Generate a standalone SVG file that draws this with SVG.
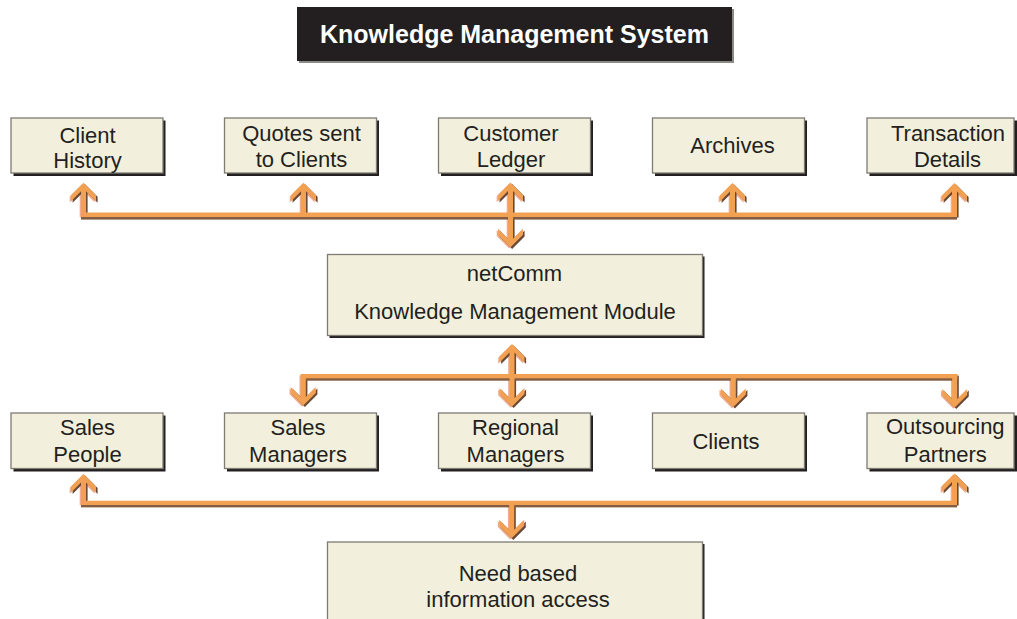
<svg xmlns="http://www.w3.org/2000/svg" xmlns:xlink="http://www.w3.org/1999/xlink" width="1017" height="619" viewBox="0 0 1017 619">
<style>
.box{fill:#f2f0dc;stroke:#7d7b74;stroke-width:1.3}
.shd{fill:#231f20}
.lbl{font-family:"Liberation Sans",Arial,sans-serif;font-size:22px;fill:#231f20;text-anchor:middle}
.ttl{font-family:"Liberation Sans",Arial,sans-serif;font-size:25px;font-weight:bold;fill:#ffffff;text-anchor:middle}
.busO{fill:#f2a152}
.busB{fill:#845c42}
</style>
<defs>
<path id="hu" d="M0,0 L12.5,12.5 L12.5,18.5 L2.5,8.5 L-2.5,8.5 L-12.5,18.5 L-12.5,12.5 Z"/>
<path id="hd" d="M0,0 L12.5,-12.5 L12.5,-18.5 L2.5,-8.5 L-2.5,-8.5 L-12.5,-18.5 L-12.5,-12.5 Z"/>
<g id="arrows">
<use xlink:href="#hu" x="83.5" y="182.7"/><rect x="81" y="190" width="5" height="26"/>
<use xlink:href="#hu" x="303.5" y="182.7"/><rect x="301" y="190" width="5" height="26"/>
<use xlink:href="#hu" x="510.5" y="182.5"/><rect x="508" y="190" width="5" height="50"/><use xlink:href="#hd" x="510.5" y="247.3"/>
<use xlink:href="#hu" x="732.5" y="183"/><rect x="730" y="190" width="5" height="26"/>
<use xlink:href="#hu" x="954.5" y="183"/><rect x="952" y="190" width="5" height="26"/>
<use xlink:href="#hu" x="512" y="344"/><rect x="509.5" y="351" width="5" height="49"/><use xlink:href="#hd" x="512" y="406.5"/>
<rect x="300.8" y="374" width="5" height="25"/><use xlink:href="#hd" x="303.3" y="405.5"/>
<rect x="730.8" y="374" width="5" height="26"/><use xlink:href="#hd" x="733.3" y="407"/>
<rect x="952.2" y="374" width="5" height="26"/><use xlink:href="#hd" x="954.7" y="407.5"/>
<use xlink:href="#hu" x="83.5" y="474"/><rect x="81" y="481" width="5" height="23"/>
<use xlink:href="#hu" x="954.5" y="473.5"/><rect x="952" y="481" width="5" height="23"/>
<rect x="509.2" y="502" width="5" height="30"/><use xlink:href="#hd" x="511.7" y="538.3"/>
</g>
</defs>
<rect width="1017" height="619" fill="#ffffff"/>

<g id="title">
<rect x="299" y="9" width="435" height="54" fill="#8c8a86"/>
<rect x="297" y="7" width="435" height="54" fill="#231f20"/>
<text class="ttl" x="514.5" y="42.5">Knowledge Management System</text>
</g>

<g id="connectors">
<use xlink:href="#arrows" fill="#f2ab8e" transform="translate(-1.3,1.3)"/>
<use xlink:href="#arrows" fill="#6a4a37" transform="translate(1.6,1.6)"/>
<rect class="busB" x="81" y="215" width="876" height="4.6"/>
<rect class="busO" x="81" y="212.5" width="876" height="4.5"/>
<rect class="busB" x="301" y="376.3" width="656.3" height="4.4"/>
<rect class="busO" x="300.8" y="374" width="656.5" height="4.3"/>
<rect class="busB" x="81" y="503" width="876" height="4.4"/>
<rect class="busO" x="81" y="500.7" width="876" height="4.3"/>
<use xlink:href="#arrows" fill="#f2a152"/>
</g>

<g id="node-client-history">
<rect class="shd" x="13.5" y="120.5" width="152" height="55.5"/>
<rect class="box" x="11" y="118" width="152" height="55"/>
<text class="lbl" x="87.5" y="142.7">Client</text>
<text class="lbl" x="87.5" y="168">History</text>
</g>
<g id="node-quotes">
<rect class="shd" x="227" y="120.5" width="152" height="55.5"/>
<rect class="box" x="224.5" y="118" width="152" height="55"/>
<text class="lbl" x="301.5" y="140.7">Quotes sent</text>
<text class="lbl" x="301.5" y="166.7">to Clients</text>
</g>
<g id="node-customer-ledger">
<rect class="shd" x="441" y="120.5" width="152" height="55.5"/>
<rect class="box" x="438.5" y="118" width="152" height="55"/>
<text class="lbl" x="511" y="140.7">Customer</text>
<text class="lbl" x="511" y="166.7">Ledger</text>
</g>
<g id="node-archives">
<rect class="shd" x="655" y="120.5" width="152" height="55.5"/>
<rect class="box" x="652.5" y="118" width="152" height="55"/>
<text class="lbl" x="732.5" y="153.3">Archives</text>
</g>
<g id="node-transaction">
<rect class="shd" x="869.5" y="120.5" width="147.5" height="55.5"/>
<rect class="box" x="867" y="118" width="147" height="55"/>
<text class="lbl" x="948" y="140.7">Transaction</text>
<text class="lbl" x="947.5" y="166.7">Details</text>
</g>

<g id="node-netcomm">
<rect class="shd" x="329.5" y="256.5" width="375" height="81.5"/>
<rect class="box" x="327.5" y="254.5" width="375" height="81"/>
<text class="lbl" x="514.5" y="280.7">netComm</text>
<text class="lbl" x="515" y="319">Knowledge Management Module</text>
</g>

<g id="node-sales-people">
<rect class="shd" x="13.5" y="415.5" width="152" height="56"/>
<rect class="box" x="11" y="413" width="152" height="55.5"/>
<text class="lbl" x="87.5" y="435">Sales</text>
<text class="lbl" x="87.5" y="461.7">People</text>
</g>
<g id="node-sales-managers">
<rect class="shd" x="227" y="415.5" width="152" height="56"/>
<rect class="box" x="224.5" y="413" width="152" height="55.5"/>
<text class="lbl" x="298" y="435">Sales</text>
<text class="lbl" x="298" y="461.7">Managers</text>
</g>
<g id="node-regional-managers">
<rect class="shd" x="441" y="415.5" width="152" height="56"/>
<rect class="box" x="438.5" y="413" width="152" height="55.5"/>
<text class="lbl" x="515.5" y="435">Regional</text>
<text class="lbl" x="515.5" y="461.7">Managers</text>
</g>
<g id="node-clients">
<rect class="shd" x="655" y="415.5" width="152" height="56"/>
<rect class="box" x="652.5" y="413" width="152" height="55.5"/>
<text class="lbl" x="726" y="449.3">Clients</text>
</g>
<g id="node-outsourcing">
<rect class="shd" x="869.5" y="415.5" width="147.5" height="56"/>
<rect class="box" x="867" y="413" width="147" height="55.5"/>
<text class="lbl" x="945.3" y="434.3">Outsourcing</text>
<text class="lbl" x="945.3" y="461.7">Partners</text>
</g>

<g id="node-need-based">
<rect class="shd" x="329.5" y="544" width="375" height="80"/>
<rect class="box" x="327.5" y="542" width="375" height="80"/>
<text class="lbl" x="518" y="581">Need based</text>
<text class="lbl" x="518" y="606.7">information access</text>
</g>
</svg>
